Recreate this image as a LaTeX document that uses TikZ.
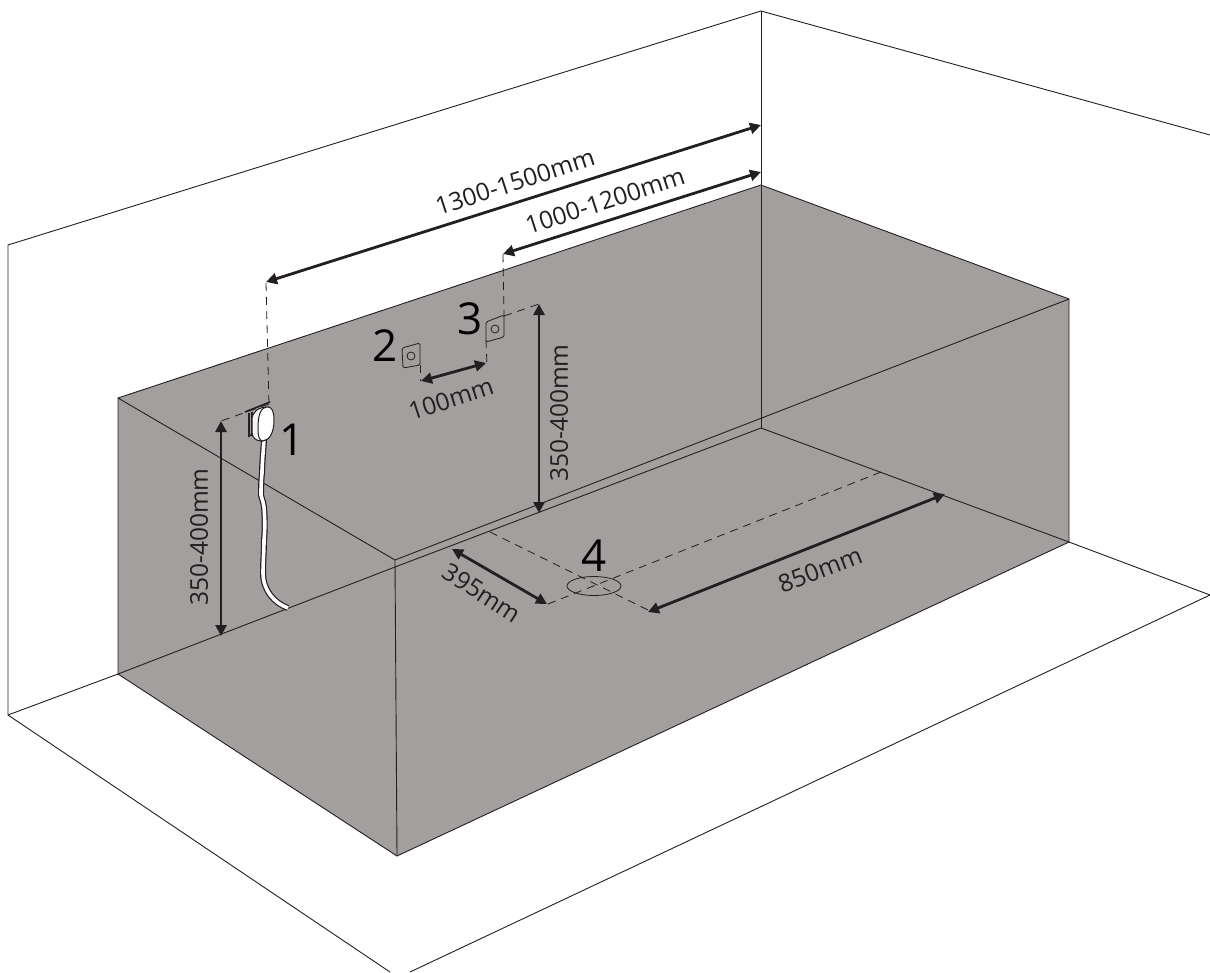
\documentclass[tikz,border=0pt]{standalone}
\usepackage{fontspec}
\setmainfont{Open Sans}
\usetikzlibrary{arrows.meta}
\definecolor{tub}{HTML}{A39F9E}
\definecolor{ink}{HTML}{231F20}
\tikzset{
  edge/.style={draw=ink,line width=0.9pt},
  dim/.style={draw=ink,line width=2.8pt,{Triangle[length=11pt,width=11pt]}-{Triangle[length=11pt,width=11pt]}},
  guide/.style={draw=ink,line width=0.8pt,dash pattern=on 8pt off 6pt},
  dimtext/.style={font=\fontsize{24.5}{26}\selectfont,text=ink,inner sep=0pt},
  numtext/.style={font=\fontsize{44}{46}\selectfont,text=black,inner sep=0pt},
  plate/.style={draw=ink,line width=0.8pt,line join=round},
}
\newcommand{\cablepath}{(264,440) .. controls (263,455) and (262,465) .. (262,473) .. controls (261,482) and (261,490) .. (261,495) .. controls (262,500) and (264,503) .. (264,507) .. controls (265,520) and (265,530) .. (264,540) .. controls (264,552) and (263,562) .. (263,573) .. controls (263,590) and (274,603) .. (288,608)}
\begin{document}
\begin{tikzpicture}[x=1pt,y=-1pt]
\useasboundingbox (0,0) rectangle (1210,972);
% named corners
\coordinate (wl) at (8,245); \coordinate (wc) at (761,11); \coordinate (wr) at (1210,135);
\coordinate (wb) at (8,715); \coordinate (fb1) at (390,972); \coordinate (fb2) at (410,972); \coordinate (fr) at (1210,595);
\coordinate (tl) at (118,398); \coordinate (tb) at (761,185); \coordinate (tr) at (1069,299);
\coordinate (br) at (1069,542); \coordinate (bf) at (397,856); \coordinate (bl) at (118,674);
\coordinate (tf) at (395,560); \coordinate (tf2) at (395,567); \coordinate (ic) at (761,428);
% tub
\fill[tub] (tl)--(tb)--(tr)--(br)--(bf)--(bl)--cycle;
% walls and floor
\draw[edge] (fr)--(fb2);
\draw[edge] (fb1)--(wb)--(wl)--(wc)--(wr);
\draw[edge] (wb)--(bl);
\draw[edge] (wc)--(tb);
\draw[edge] (br)--(fr);
% tub edges
\draw[edge] (tl)--(tb)--(tr)--(br)--(bf)--(bl)--cycle;
\draw[edge] (tl)--(tf)--(tr);
\draw[edge] (bl)--(tf2)--(ic)--(br);
\draw[edge] (tb)--(ic);
\draw[edge] (tf)--(bf);
% guides
\coordinate (g1a) at (266,283); \coordinate (g1b) at (269,404); \coordinate (g1c) at (221,421);
\coordinate (g3a) at (503,254); \coordinate (g3b) at (504,316); \coordinate (g3c) at (539,304); \coordinate (g3d) at (486,340); \coordinate (g3e) at (487,365);
\coordinate (g2a) at (420,381); \coordinate (g2b) at (420,365);
\coordinate (d1) at (490,532); \coordinate (d2) at (652,612); \coordinate (d3) at (548,604); \coordinate (d4) at (881,472);
\draw[guide] (g1a)--(g1b);
\draw[guide] (g1b)--(g1c);
\draw[guide] (g3a)--(g3b);
\draw[guide] (g3b)--(g3c);
\draw[guide] (g3d)--(g3e);
\draw[guide] (g2b)--(g2a);
\draw[guide] (d1)--(d2);
\draw[guide] (d3)--(d4);
% drain
\draw[draw=ink,line width=0.8pt] (594,586) ellipse [x radius=27,y radius=9.5];
% dimensions
\coordinate (a1) at (266,282); \coordinate (a2) at (761,125);
\coordinate (b1) at (503,254); \coordinate (b2) at (761,172);
\coordinate (c1) at (421,381); \coordinate (c2) at (486,363);
\coordinate (e1) at (539,304); \coordinate (e2) at (539,513);
\coordinate (f1) at (221,421); \coordinate (f2) at (221,636);
\coordinate (h1) at (452,549); \coordinate (h2) at (547,604);
\coordinate (i1) at (648,612); \coordinate (i2) at (945,494);
\draw[dim] (a1)--(a2);
\draw[dim] (b1)--(b2);
\draw[dim] (c1)--(c2);
\draw[dim] (e1)--(e2);
\draw[dim] (f1)--(f2);
\draw[dim] (h1)--(h2);
\draw[dim] (i1)--(i2);
% plates
\draw[plate,rounded corners=1.5pt,fill=tub] (402,348)--(420,343)--(420,365)--(403,368)--cycle;
\draw[draw=ink,line width=0.8pt] (411,356) circle (4);
\draw[plate,rounded corners=1.5pt,fill=tub] (486,322)--(504,315)--(504,337)--(486,342)--cycle;
\draw[draw=ink,line width=0.8pt] (495,329) circle (4);
% socket and cable
\draw[ink,line width=1.6pt] (245,412)--(270,402);
\draw[ink,line width=1.6pt] (249,413)--(249,436)--(254,434);
\draw[ink,line width=1.2pt] (252,412)--(252,434);
\draw[ink,line width=6pt] \cablepath;
\draw[white,line width=3.6pt] \cablepath;
\draw[ink,line width=1pt,fill=white!88!tub] (268,407) .. controls (258,407) and (252,412) .. (252,420) -- (252,432) .. controls (252,438) and (256,441) .. (262,441) -- (266,440) -- (268,407) -- cycle;
\draw[ink,line width=1pt,fill=white] (268,407) .. controls (272,407) and (274,412) .. (274,420) .. controls (274,432) and (270,440) .. (263,441) .. controls (259,441) and (258,436) .. (258,428) .. controls (258,414) and (261,407) .. (268,407) -- cycle;
% numbers
\node[numtext] (n1) at (292,440) {1};
\node[numtext] (n2) at (385,346) {2};
\node[numtext] (n3) at (470,319) {3};
\node[numtext] (n4) at (594,556) {4};
% dim labels
\node[dimtext,rotate=18] (l1) at (515,182) {1300-1500mm};
\node[dimtext,rotate=18] (l2) at (605,201) {1000-1200mm};
\node[dimtext,rotate=18] (l3) at (451,399) {100mm};
\node[dimtext,rotate=90] (l4) at (559,413) {350-400mm};
\node[dimtext,rotate=90] (l5) at (199,537) {350-400mm};
\node[dimtext,rotate=-33] (l6) at (482,593) {395mm};
\node[dimtext,rotate=21] (l7) at (820,570) {850mm};
\end{tikzpicture}
\end{document}
